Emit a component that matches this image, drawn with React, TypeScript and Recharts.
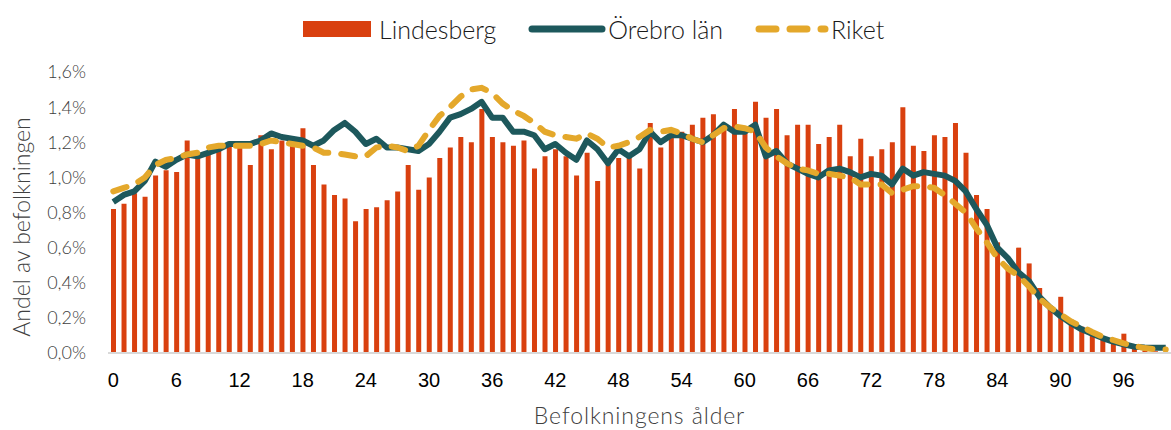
import { ComposedChart, Bar, Line, XAxis, YAxis, Label } from "recharts";

// andel av befolkningen (%) per ålder 0–100
const ages = Array.from({ length: 101 }, (_, i) => i);

const lindesberg = [
  0.82, 0.85, 0.91, 0.89, 1.01, 1.04, 1.03, 1.21, 1.12, 1.13,
  1.16, 1.18, 1.17, 1.07, 1.24, 1.16, 1.21, 1.19, 1.28, 1.07,
  0.96, 0.9, 0.88, 0.75, 0.82, 0.83, 0.87, 0.92, 1.07, 0.93,
  1.0, 1.11, 1.17, 1.23, 1.2, 1.39, 1.23, 1.2, 1.18, 1.21,
  1.05, 1.12, 1.16, 1.12, 1.01, 1.14, 0.98, 1.08, 1.11, 1.11,
  1.05, 1.31, 1.17, 1.23, 1.26, 1.3, 1.34, 1.36, 1.29, 1.39,
  1.26, 1.43, 1.34, 1.39, 1.24, 1.3, 1.3, 1.19, 1.23, 1.3,
  1.12, 1.22, 1.12, 1.16, 1.2, 1.4, 1.18, 1.15, 1.24, 1.23,
  1.31, 1.14, 0.9, 0.82, 0.63, 0.49, 0.6, 0.51, 0.37, 0.26,
  0.32, 0.19, 0.15, 0.11, 0.08, 0.065, 0.11, 0.03, 0.015, 0.01,
  0.005,
];

const orebro = [
  0.86, 0.9, 0.92, 0.98, 1.09, 1.06, 1.1, 1.13, 1.12, 1.14,
  1.16, 1.19, 1.19, 1.19, 1.21, 1.25, 1.23, 1.22, 1.21, 1.18,
  1.21, 1.27, 1.31, 1.26, 1.19, 1.22, 1.17, 1.17, 1.16, 1.15,
  1.19, 1.26, 1.34, 1.36, 1.39, 1.43, 1.34, 1.34, 1.26, 1.26,
  1.24, 1.16, 1.19, 1.14, 1.1, 1.21, 1.16, 1.08, 1.16, 1.12,
  1.16, 1.26, 1.2, 1.24, 1.24, 1.22, 1.2, 1.24, 1.3, 1.26,
  1.26, 1.3, 1.12, 1.15, 1.08, 1.05, 1.02, 1.0, 1.04, 1.05,
  1.03, 1.0, 1.02, 1.01, 0.96, 1.05, 1.01, 1.03, 1.02, 1.01,
  0.98, 0.92, 0.82, 0.73, 0.6, 0.54, 0.46, 0.41, 0.32, 0.26,
  0.21, 0.17, 0.135, 0.11, 0.085, 0.065, 0.05, 0.036, 0.032, 0.03,
  0.03,
];

const riket = [
  0.92, 0.94, 0.96, 1.0, 1.07, 1.1, 1.11, 1.13, 1.14, 1.17,
  1.18, 1.18, 1.18, 1.18, 1.19, 1.21, 1.2, 1.19, 1.18, 1.17,
  1.14, 1.14, 1.13, 1.12, 1.12, 1.17, 1.18, 1.17, 1.15, 1.18,
  1.27, 1.35, 1.4, 1.46, 1.5, 1.51, 1.48, 1.42, 1.38, 1.35,
  1.31, 1.26, 1.24, 1.23, 1.22, 1.25, 1.22, 1.17, 1.18, 1.2,
  1.23, 1.27, 1.26, 1.27, 1.25, 1.22, 1.2, 1.24, 1.28, 1.29,
  1.28, 1.26, 1.17, 1.12, 1.08, 1.05, 1.04, 1.02, 1.02, 1.01,
  1.0, 0.96, 0.96, 0.96, 0.91, 0.93, 0.95, 0.95, 0.94, 0.9,
  0.85, 0.8, 0.71, 0.63, 0.54, 0.48, 0.44, 0.38, 0.31, 0.26,
  0.22, 0.18, 0.15, 0.12, 0.093, 0.074, 0.055, 0.04, 0.028, 0.021,
  0.02,
];

const yTicks = [0, 0.2, 0.4, 0.6, 0.8, 1.0, 1.2, 1.4, 1.6];

const RED = "#d9400f";
const TEAL = "#1d585c";
const GOLD = "#e4a82b";

const data = ages.map((a, i) => ({
  age: a,
  lindesberg: lindesberg[i],
  orebro: orebro[i],
  riket: riket[i],
}));

const pct = (v: number) => v.toFixed(1).replace(".", ",") + "%";

const FONT = "Lato, sans-serif";
const legendText = { fontSize: 25, color: "#1a1a1a", fontFamily: FONT, fontWeight: 300, lineHeight: "30px" };

const ChartLegend = () => (
  <div style={{ position: "absolute", top: 14, left: 303, display: "flex", alignItems: "center", height: 30 }}>
    <div style={{ width: 68, height: 16, background: RED, marginRight: 8 }} />
    <span style={legendText}>Lindesberg</span>
    <svg width={78} height={12} style={{ marginLeft: 32, marginRight: 2 }}>
      <line x1={4} y1={6} x2={74} y2={6} stroke={TEAL} strokeWidth={7} strokeLinecap="round" />
    </svg>
    <span style={legendText}>Örebro län</span>
    <svg width={74} height={12} style={{ marginLeft: 32, marginRight: 2 }}>
      <line x1={4} y1={6} x2={70} y2={6} stroke={GOLD} strokeWidth={7} strokeLinecap="round" strokeDasharray="17 14" />
    </svg>
    <span style={legendText}>Riket</span>
  </div>
);

const YTitle = () => (
  <text
    x={21}
    y={227}
    transform="rotate(-90 21 227)"
    textAnchor="middle"
    dominantBaseline="central"
    style={{ fontSize: 23, fill: "#404040", fontFamily: FONT, fontWeight: 300 }}
  >
    Andel av befolkningen
  </text>
);

export default function App() {
  return (
    <div style={{ position: "relative", width: 1171, height: 430, background: "#fff" }}>
      <style>{`body{margin:0}`}</style>
      <ChartLegend />
      <ComposedChart
        width={1171}
        height={430}
        data={data}
        margin={{ top: 72, right: 0, left: 0, bottom: 0 }}
        barCategoryGap={0}
      >
        <XAxis
          dataKey="age"
          interval={5}
          tickLine={false}
          axisLine={{ stroke: "#d9d9d9", strokeWidth: 2 }}
          tickMargin={14}
          height={77}
          tick={{ fontSize: 20, fill: "#000", fontFamily: "Liberation Sans, Arial, sans-serif" }}
          label={{
            value: "Befolkningens ålder",
            position: "insideBottom",
            offset: 6,
            style: { fontSize: 23, fill: "#404040", fontFamily: FONT, fontWeight: 300, letterSpacing: 0.9 },
          }}
        />
        <YAxis
          width={108}
          domain={[0, 1.6]}
          ticks={yTicks}
          tickFormatter={pct}
          axisLine={false}
          tickLine={false}
          tickMargin={16}
          tick={{ fontSize: 18, fill: "#404040", fontFamily: FONT, fontWeight: 300 }}
        >
          <Label content={<YTitle />} />
        </YAxis>
        <Bar dataKey="lindesberg" name="Lindesberg" fill={RED} barSize={5} isAnimationActive={false} />
        <Line
          type="linear"
          dataKey="orebro"
          name="Örebro län"
          stroke={TEAL}
          strokeWidth={6}
          strokeLinejoin="round"
          dot={false}
          activeDot={false}
          isAnimationActive={false}
        />
        <Line
          type="linear"
          dataKey="riket"
          name="Riket"
          stroke={GOLD}
          strokeWidth={6}
          strokeLinecap="round"
          strokeDasharray="14 13"
          dot={false}
          activeDot={false}
          isAnimationActive={false}
        />
      </ComposedChart>
    </div>
  );
}
